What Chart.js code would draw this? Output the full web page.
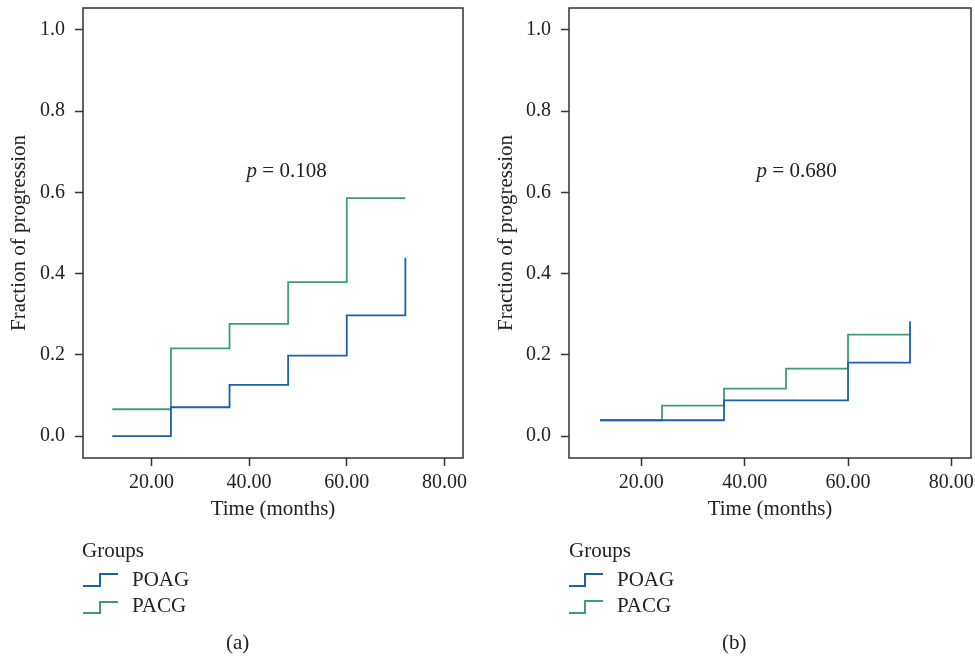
<!DOCTYPE html>
<html>
<head>
<meta charset="utf-8">
<script src="https://cdn.jsdelivr.net/npm/chart.js@4"></script>
<style>
  body { margin: 0; background: #fff; }
  #wrap { position: relative; width: 975px; height: 660px; overflow: hidden; font-family: 'Liberation Serif', serif; color: #222; }
  canvas { position: absolute; top: 0; }
  .txt { position: absolute; font-size: 21px; line-height: 21px; white-space: nowrap; }
  svg.icons { position: absolute; left: 0; top: 0; }
</style>
</head>
<body>
<div id="wrap">
  <canvas id="chartA" width="487" height="530" style="left:0"></canvas>
  <canvas id="chartB" width="488" height="530" style="left:487px"></canvas>

  <svg class="icons" width="975" height="660">
    <polyline points="83,586 100,586 100,574 118,574" fill="none" stroke="#1f5faf" stroke-width="2"/>
    <polyline points="83,613 100,613 100,602 118,602" fill="none" stroke="#3f9c74" stroke-width="2"/>
    <polyline points="569,586 585,586 585,574 603,574" fill="none" stroke="#1f5faf" stroke-width="2"/>
    <polyline points="569,613 585,613 585,601 603,601" fill="none" stroke="#3f9c74" stroke-width="2"/>
  </svg>

  <div class="txt" style="left:82px; top:540px">Groups</div>
  <div class="txt" style="left:132px; top:569px">POAG</div>
  <div class="txt" style="left:132px; top:595px">PACG</div>
  <div class="txt" style="left:226px; top:632px">(a)</div>

  <div class="txt" style="left:569px; top:540px">Groups</div>
  <div class="txt" style="left:617px; top:569px">POAG</div>
  <div class="txt" style="left:617px; top:595px">PACG</div>
  <div class="txt" style="left:722px; top:632px">(b)</div>
</div>

<script>
// follow-up time points (months)
const months = [12, 24, 36, 48, 60, 72];

// (a) cumulative fraction of progression
const poagA = [0, 0.071, 0.126, 0.198, 0.297, 0.439];
const pacgA = [0.066, 0.216, 0.276, 0.379, 0.586, 0.586];

// (b)
const poagB = [0.039, 0.039, 0.088, 0.088, 0.181, 0.283];
const pacgB = [0.039, 0.075, 0.117, 0.166, 0.250, 0.250];

const xTicks = [20, 40, 60, 80];
const yTicks = [0, 0.2, 0.4, 0.6, 0.8, 1.0];

const pLabels = ['0.108', '0.680'];

const BLUE = '#1f5faf';
const GREEN = '#3f9c74';
const INK = '#222';
const FONT = 'Liberation Serif';

const toPoints = (vals) => months.map((m, i) => ({ x: m, y: vals[i] }));

// box around the plot + p-value note
const framePlugin = {
    id: 'frame',
    afterDraw(chart, args, opts) {
        const { ctx, chartArea: a, scales } = chart;
        ctx.save();
        ctx.strokeStyle = '#333';
        ctx.lineWidth = 1.5;
        ctx.strokeRect(a.left, a.top, a.right - a.left, a.bottom - a.top);

        const px = scales.x.getPixelForValue(opts.at[0]);
        const py = scales.y.getPixelForValue(opts.at[1]);
        ctx.fillStyle = INK;
        ctx.textBaseline = 'alphabetic';
        ctx.textAlign = 'left';
        ctx.font = `italic 21px '${FONT}'`;
        ctx.fillText('p', px, py);
        const w = ctx.measureText('p').width;
        ctx.font = `21px '${FONT}'`;
        ctx.fillText(' = ' + opts.text, px + w, py);
        ctx.restore();
    }
};

function makeChart(id, poag, pacg, pText, pAt, yAxisWidth, rightPad) {
    return new Chart(document.getElementById(id), {
        type: 'scatter',
        data: {
            datasets: [{
                label: 'POAG',
                data: toPoints(poag),
                showLine: true,
                stepped: 'before',
                borderColor: BLUE,
                borderWidth: 1.8,
                pointRadius: 0,
                fill: false
            }, {
                label: 'PACG',
                data: toPoints(pacg),
                showLine: true,
                stepped: 'before',
                borderColor: GREEN,
                borderWidth: 1.8,
                pointRadius: 0,
                fill: false
            }]
        },
        options: {
            responsive: false,
            animation: false,
            devicePixelRatio: 1,
            layout: { padding: { top: 8, right: rightPad, left: 0, bottom: 0 } },
            plugins: {
                legend: { display: false },
                tooltip: { enabled: false },
                frame: { text: pText, at: pAt }
            },
            scales: {
                x: {
                    type: 'linear',
                    min: 6,
                    max: 83.8,
                    afterBuildTicks: (s) => { s.ticks = xTicks.map(v => ({ value: v })); },
                    afterFit: (s) => { s.height = 72; s.paddingLeft = 0; s.paddingRight = 0; },
                    ticks: {
                        callback: (v) => v.toFixed(2),
                        font: { family: FONT, size: 20 },
                        color: INK,
                        padding: 5,
                        maxRotation: 0
                    },
                    grid: { drawOnChartArea: false, drawTicks: true, tickLength: 8, tickColor: '#333', tickWidth: 1.5 },
                    border: { display: false },
                    title: {
                        display: true,
                        text: 'Time (months)',
                        font: { family: FONT, size: 21 },
                        color: INK,
                        padding: { top: 0, bottom: 8 }
                    }
                },
                y: {
                    type: 'linear',
                    min: -0.054,
                    max: 1.054,
                    afterBuildTicks: (s) => { s.ticks = yTicks.map(v => ({ value: v })); },
                    afterFit: (s) => { s.width = yAxisWidth; s.paddingTop = 0; s.paddingBottom = 0; },
                    ticks: {
                        callback: (v) => v.toFixed(1),
                        font: { family: FONT, size: 20 },
                        color: INK,
                        padding: 10
                    },
                    grid: { drawOnChartArea: false, drawTicks: true, tickLength: 8, tickColor: '#333', tickWidth: 1.5 },
                    border: { display: false },
                    title: {
                        display: true,
                        text: 'Fraction of progression',
                        font: { family: FONT, size: 21 },
                        color: INK,
                        padding: { top: 7, bottom: 0 }
                    }
                }
            }
        },
        plugins: [framePlugin]
    });
}

makeChart('chartA', poagA, pacgA, pLabels[0], [39.5, 0.638], 83, 24);
makeChart('chartB', poagB, pacgB, pLabels[1], [42.3, 0.638], 82, 4);
</script>
</body>
</html>
